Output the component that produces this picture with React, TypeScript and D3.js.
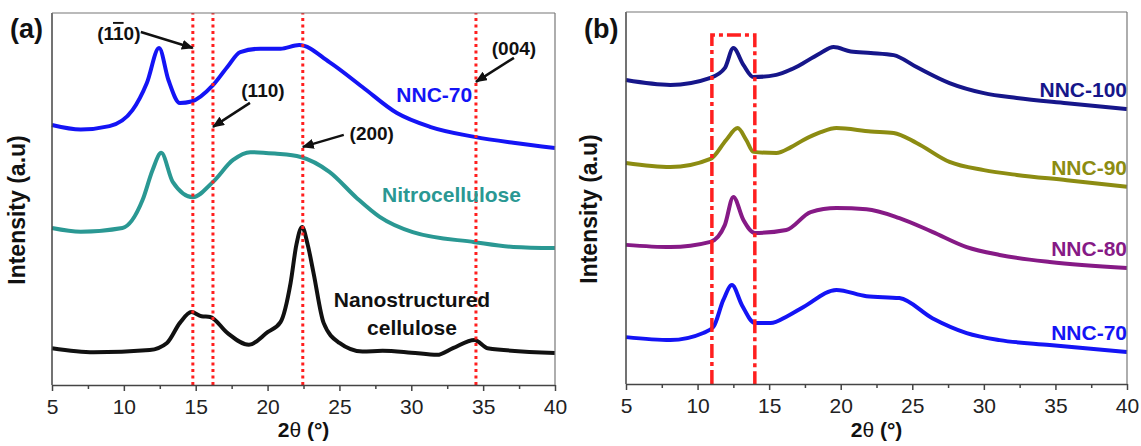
import React, { useEffect, useRef } from 'react'
import * as d3 from 'd3'

type Pt = [number, number]

// ---- panel (a): 2theta (deg) vs intensity (a.u.)
const nnc70A: Pt[] = [
  [5, 69.9], [7, 68.7], [9, 69.6], [10.6, 73.9], [11.6, 81.2], [12.45, 90.6], [13.1, 82.0],
  [13.9, 75.8], [14.7, 76.2], [16.2, 80.6], [17.2, 85.5], [18.1, 89.5], [19.5, 90.4], [20.9, 90.4],
  [22.2, 91.4], [24.3, 86.8], [26.6, 80.1], [29.0, 73.1], [31.3, 69.4], [34.4, 66.7],
  [37.1, 65.1], [40, 63.7],
]
const nitroA: Pt[] = [
  [5, 42.2], [7, 41.2], [9.9, 42.2], [11.3, 49.7], [12.0, 57.8], [12.6, 62.4], [13.4, 54.6],
  [14.8, 50.5], [16.2, 54.6], [17.6, 60.5], [18.8, 62.6], [20.5, 62.2], [22.3, 61.3],
  [24.3, 57.3], [26.2, 50.3], [27.8, 45.2], [30.1, 41.1], [34.4, 38.4], [37.1, 37.1], [40, 36.8],
]
const nanoCellA: Pt[] = [
  [5, 9.9], [7.9, 8.8], [11.8, 9.4], [13.0, 11.3], [13.9, 16.7], [14.7, 19.6], [15.4, 18.5],
  [16.0, 18.3], [17.2, 14.0], [18.7, 10.8], [20.0, 14.2], [20.9, 16.9], [21.6, 27.4],
  [22.0, 37.6], [22.4, 42.5], [22.8, 37.6], [23.2, 30.1], [23.9, 16.7], [25.0, 11.3],
  [26.6, 9.0], [28.0, 9.2], [30.0, 8.7], [31.8, 8.1], [32.9, 9.9], [34.4, 12.1], [35.3, 9.9], [40, 8.6],
]
const peakLinesA = [14.8, 16.2, 22.45, 34.5]
const peakLabelsA = ['(110)', '(110)', '(200)', '(004)']
const peakBarA = [2, -1, -1, -1] // index of the barred digit
const peakArrowYA = [90.6, 69.4, 64.0, 81.5]

// ---- panel (b)
const nnc100B: Pt[] = [
  [5, 81.7], [8.1, 80.4], [10.9, 82.3], [11.9, 84.9], [12.5, 90.3], [13.2, 85.8], [13.9, 82.5],
  [15.5, 83.1], [16.5, 84.5], [17.4, 86.3], [18.6, 89.0], [19.5, 90.6], [20.7, 89.4], [22.1, 89.0],
  [23.7, 88.4], [25.3, 85.2], [27.6, 80.9], [30.0, 78.2], [32.3, 76.9], [35.8, 75.5], [40, 73.9],
]
const nnc90B: Pt[] = [
  [5, 59.4], [8.1, 58.3], [10.9, 60.5], [12.0, 65.6], [12.8, 68.8], [13.4, 65.6], [13.9, 62.4],
  [15.5, 62.1], [16.5, 63.6], [17.4, 65.6], [18.6, 67.7], [19.7, 68.8], [22.1, 67.9], [23.7, 67.5],
  [25.3, 64.8], [27.6, 59.7], [30.0, 57.5], [32.3, 56.2], [35.8, 54.8], [40, 53.0],
]
const nnc80B: Pt[] = [
  [5, 37.4], [8.1, 36.8], [10.9, 38.2], [11.9, 42.7], [12.5, 50.3], [13.2, 44.1], [14.0, 40.6],
  [16.2, 41.4], [17.9, 46.2], [19.7, 47.3], [21.8, 47.0], [24.1, 44.6], [26.4, 40.9],
  [28.8, 36.8], [31.1, 34.7], [34.6, 32.8], [40, 31.2],
]
const nnc70B: Pt[] = [
  [5, 12.6], [8.1, 11.8], [10.4, 13.7], [11.1, 15.3], [11.8, 22.6], [12.4, 26.6], [13.1, 21.2],
  [14.0, 16.4], [15.1, 16.4], [16.3, 18.3], [17.4, 20.7], [19.7, 25.3], [21.8, 23.6], [24.1, 23.1],
  [26.4, 17.7], [28.8, 13.7], [31.1, 11.8], [34.6, 10.5], [40, 8.6],
]
const boxRangeB = [11, 14]
const boxTopB = 93.8

const xMajor = [5, 10, 15, 20, 25, 30, 35, 40]
const xMinor = [7.5, 12.5, 17.5, 22.5, 27.5, 32.5, 37.5]

const FONT = "'Liberation Sans', Arial, sans-serif"

function drawFrame(g: any, x: any, y: any, label: string, titleX: number) {
  const [x0, x1] = x.range()
  const [y0, y1] = y.range()
  // minor ticks
  g.append('g')
    .attr('transform', `translate(0,${y0})`)
    .call(d3.axisBottom(x).tickValues(xMinor).tickSize(4).tickFormat(() => ''))
    .call((s: any) => s.select('.domain').remove())
  const ax = g.append('g')
    .attr('transform', `translate(0,${y0})`)
    .call(d3.axisBottom(x).tickValues(xMajor).tickSize(6).tickPadding(8).tickSizeOuter(0))
  ax.selectAll('text').attr('font-size', 21).attr('font-family', FONT).attr('fill', '#222')
  g.selectAll('.tick line').attr('stroke', '#444').attr('stroke-width', 1.5)
  ax.select('.domain').attr('stroke', '#444').attr('stroke-width', 1.5)
  g.append('line').attr('x1', x0).attr('x2', x0).attr('y1', y0).attr('y2', y1)
    .attr('stroke', '#444').attr('stroke-width', 1.5)
  g.append('line').attr('x1', x0).attr('x2', x1).attr('y1', y1).attr('y2', y1)
    .attr('stroke', '#777').attr('stroke-width', 1.2)
  g.append('line').attr('x1', x1).attr('x2', x1).attr('y1', y0).attr('y2', y1)
    .attr('stroke', '#777').attr('stroke-width', 1.2)

  // axis titles
  const t = g.append('text').attr('x', (x0 + x1) / 2).attr('y', 437)
    .attr('text-anchor', 'middle').attr('font-size', 21).attr('font-weight', 'bold')
    .attr('font-family', FONT).attr('fill', '#111')
  t.append('tspan').text('2')
  t.append('tspan').attr('font-weight', 'normal').text('\u03b8')
  t.append('tspan').text(' (\u00b0)')
  g.append('text')
    .attr('transform', `translate(${titleX},${(y0 + y1) / 2 + 11}) rotate(-90)`)
    .attr('text-anchor', 'middle').attr('font-size', 23).attr('font-weight', 'bold')
    .attr('font-family', FONT).attr('fill', '#111')
    .text('Intensity (a.u)')
  g.append('text').attr('x', x0 - 42).attr('y', 38)
    .attr('font-size', 27).attr('font-weight', 'bold').attr('font-family', FONT).attr('fill', '#111')
    .text(label)
}

function drawSeries(g: any, x: any, y: any, data: Pt[], color: string) {
  const line = d3.line<Pt>().x(d => x(d[0])).y(d => y(d[1])).curve(d3.curveMonotoneX)
  g.append('path').attr('d', line(data)).attr('fill', 'none')
    .attr('stroke', color).attr('stroke-width', 4).attr('stroke-linejoin', 'round')
}

function curveLabel(g: any, px: number, py: number, text: string, color: string, anchor = 'middle') {
  g.append('text').attr('x', px).attr('y', py).attr('text-anchor', anchor)
    .attr('font-size', 21).attr('font-weight', 'bold').attr('font-family', FONT)
    .attr('fill', color).text(text)
}

export default function App() {
  const ref = useRef<SVGSVGElement>(null)

  useEffect(() => {
    const svg = d3.select(ref.current)
    svg.selectAll('*').remove()

    const defs = svg.append('defs')
    defs.append('marker').attr('id', 'arrow').attr('viewBox', '0 0 12 10')
      .attr('refX', 11).attr('refY', 5).attr('markerWidth', 12).attr('markerHeight', 10)
      .attr('markerUnits', 'userSpaceOnUse').attr('orient', 'auto')
      .append('path').attr('d', 'M0,0 L12,5 L0,10 z').attr('fill', '#111')

    // ---------------- panel (a)
    const xa = d3.scaleLinear().domain([5, 40]).range([52, 555])
    const ya = d3.scaleLinear().domain([0, 100]).range([385, 13])
    const ga = svg.append('g')

    drawSeries(ga, xa, ya, nnc70A, '#1414f5')
    drawSeries(ga, xa, ya, nitroA, '#2a9893')
    drawSeries(ga, xa, ya, nanoCellA, '#111111')

    ga.selectAll('line.peak').data(peakLinesA).enter().append('line')
      .attr('class', 'peak')
      .attr('x1', d => xa(d)).attr('x2', d => xa(d))
      .attr('y1', ya(0)).attr('y2', ya(100))
      .attr('stroke', '#ff1f1f').attr('stroke-width', 3).attr('stroke-dasharray', '3,3.5')

    drawFrame(ga, xa, ya, '(a)', 25)

    // peak annotations: arrow tail offset and text offset from the arrow tip
    const arrowOff = [[-52, -16], [37, -24], [41, -12], [38, -24]]
    const textOff = [[-74, -8], [50, -30], [69, -7], [38, -27]]
    peakLinesA.forEach((p, i) => {
      const tx = xa(p), ty = ya(peakArrowYA[i])
      ga.append('line')
        .attr('x1', tx + arrowOff[i][0]).attr('y1', ty + arrowOff[i][1])
        .attr('x2', tx).attr('y2', ty)
        .attr('stroke', '#111').attr('stroke-width', 2.5).attr('marker-end', 'url(#arrow)')
      const t = ga.append('text').attr('x', tx + textOff[i][0]).attr('y', ty + textOff[i][1])
        .attr('text-anchor', 'middle').attr('font-size', 19).attr('font-weight', 'bold')
        .attr('font-family', FONT).attr('fill', '#111')
      const s = peakLabelsA[i], b = peakBarA[i]
      if (b < 0) t.text(s)
      else {
        t.append('tspan').text(s.slice(0, b))
        t.append('tspan').attr('text-decoration', 'overline').style('text-decoration', 'overline').text(s[b])
        t.append('tspan').text(s.slice(b + 1))
      }
    })

    curveLabel(ga, xa(31.6), ya(76.1), 'NNC-70', '#1414f5')
    curveLabel(ga, xa(32.8), ya(49.2), 'Nitrocellulose', '#2a9893')
    curveLabel(ga, xa(30.05), ya(21), 'Nanostructured', '#111')
    curveLabel(ga, xa(30.05), ya(13.4), 'cellulose', '#111')

    // ---------------- panel (b)
    const xb = d3.scaleLinear().domain([5, 40]).range([626, 1127])
    const yb = d3.scaleLinear().domain([0, 100]).range([384, 12])
    const gb = svg.append('g')

    const colorsB = ['#16168a', '#8c8c12', '#861a86', '#1414f5']
    const namesB = ['NNC-100', 'NNC-90', 'NNC-80', 'NNC-70']
    const dataB = [nnc100B, nnc90B, nnc80B, nnc70B]
    const labelYB = [77.2, 56.2, 34.4, 11.8]
    dataB.forEach((d, i) => drawSeries(gb, xb, yb, d, colorsB[i]))

    gb.append('path')
      .attr('d', `M${xb(boxRangeB[0])},${yb(0)} L${xb(boxRangeB[0])},${yb(boxTopB)} L${xb(boxRangeB[1])},${yb(boxTopB)} L${xb(boxRangeB[1])},${yb(0)}`)
      .attr('fill', 'none').attr('stroke', '#ff1f1f').attr('stroke-width', 3.5)
      .attr('stroke-dasharray', '14,4,4,4')

    drawFrame(gb, xb, yb, '(b)', 597)

    namesB.forEach((n, i) => curveLabel(gb, xb(40), yb(labelYB[i]), n, colorsB[i], 'end'))
  }, [])

  return (
    <svg ref={ref} width={1141} height={446}
      style={{ position: 'absolute', left: 0, top: 0, background: '#fff' }} />
  )
}
